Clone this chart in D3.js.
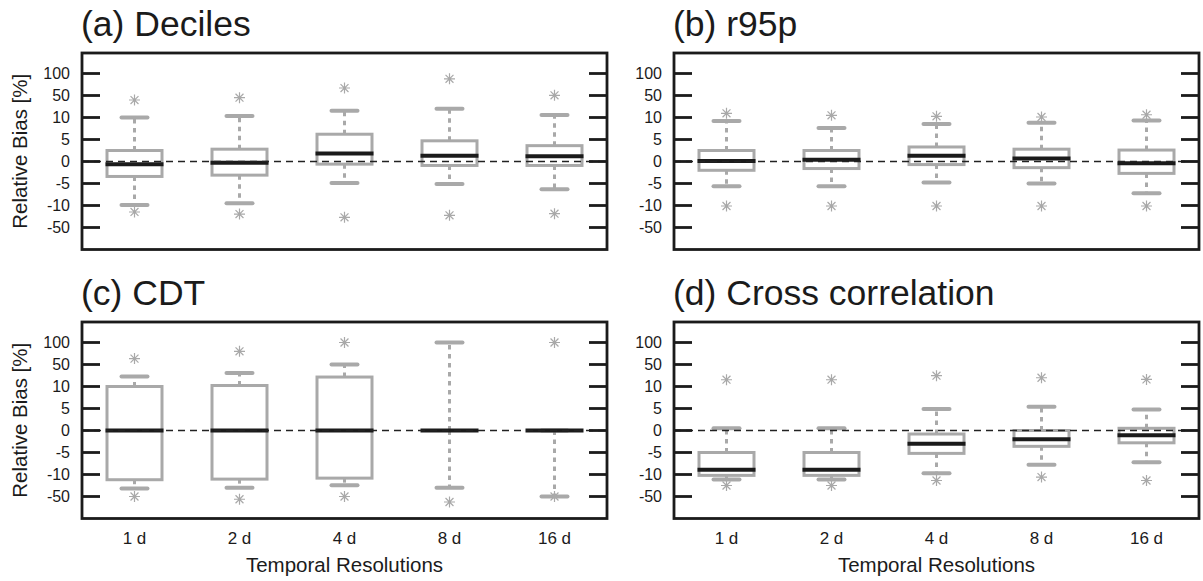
<!DOCTYPE html>
<html>
<head>
<meta charset="utf-8">
<script src="https://cdn.jsdelivr.net/npm/d3@7"></script>
<style>
  html, body { margin: 0; padding: 0; background: #fff; }
  svg { display: block; font-family: "Liberation Sans", Arial, Helvetica, sans-serif; }
</style>
</head>
<body>
<svg id="chart" width="1203" height="581"></svg>
<script>
// Temporal resolutions on the x axis
const categories = ["1 d", "2 d", "4 d", "8 d", "16 d"];

// Breakpoints of the stretched relative-bias axis (equally spaced on screen)
const yTickValues = [-50, -10, -5, 0, 5, 10, 50, 100];
const yTickLabels = ["-50", "-10", "-5", "0", "5", "10", "50", "100"];

// (a) Deciles
const decilesLow  = [-9.9, -9.5, -4.9, -5.1, -6.3];
const decilesQ1   = [-3.4, -3.1, -0.6, -0.9, -0.9];
const decilesMed  = [-0.6, -0.3, 1.8, 1.3, 1.2];
const decilesQ3   = [2.5, 2.8, 6.2, 4.7, 3.6];
const decilesHigh = [10.2, 12.7, 22.4, 26, 14.5];
const decilesOut  = [[41.8, -21.8], [46, -25.5], [67, -31.5], [88, -27.8], [50.5, -24.9]];

// (b) r95p
const r95pLow  = [-5.6, -5.6, -4.8, -5.0, -7.2];
const r95pQ1   = [-2.0, -1.6, -0.7, -1.4, -2.7];
const r95pMed  = [0.1, 0.4, 1.3, 0.7, -0.4];
const r95pQ3   = [2.5, 2.5, 3.3, 2.8, 2.6];
const r95pHigh = [9.2, 7.6, 8.5, 8.8, 9.3];
const r95pOut  = [[17.6, -10.9], [14, -10.9], [12.2, -10.9], [10.9, -10.9], [15, -10.9]];

// (c) CDT
const cdtLow  = [-35.4, -34.3, -29.4, -34.3, -50];
const cdtQ1   = [-19.5, -18.4, -16.6, 0, 0];
const cdtMed  = [0, 0, 0, 0, 0];
const cdtQ3   = [10, 11.8, 27.2, 0, 0];
const cdtHigh = [28.3, 34.5, 50, 100, 0];
const cdtOut  = [[63.4, -50], [80, -55], [100, -50], [-60], [100, -50]];

// (d) Cross correlation
const crossLow  = [-19, -19, -9.7, -7.8, -7.2];
const crossQ1   = [-11.6, -11.6, -5.2, -3.6, -2.8];
const crossMed  = [-8.9, -8.9, -3.0, -2.0, -1.1];
const crossQ3   = [-5.0, -5.0, -0.8, 0, 0.5];
const crossHigh = [0.5, 0.5, 4.9, 5.4, 4.8];
const crossOut  = [[22.3, -30], [22.3, -30], [29.6, -20.9], [25.9, -14.7], [22.8, -20.9]];

const panels = [
  { title: "(a) Deciles", left: 82, top: 53, low: decilesLow, q1: decilesQ1, med: decilesMed, q3: decilesQ3, high: decilesHigh, out: decilesOut, yTitle: true, xAxis: false },
  { title: "(b) r95p", left: 674, top: 53, low: r95pLow, q1: r95pQ1, med: r95pMed, q3: r95pQ3, high: r95pHigh, out: r95pOut, yTitle: false, xAxis: false },
  { title: "(c) CDT", left: 82, top: 322, low: cdtLow, q1: cdtQ1, med: cdtMed, q3: cdtQ3, high: cdtHigh, out: cdtOut, yTitle: true, xAxis: true },
  { title: "(d) Cross correlation", left: 674, top: 322, low: crossLow, q1: crossQ1, med: crossMed, q3: crossQ3, high: crossHigh, out: crossOut, yTitle: false, xAxis: true }
];

const W = 525, H = 196.5;          // frame size of each panel
const tickTopOffset = 20.5;        // frame top to the "100" tick
const tickStep = 22;               // spacing between neighbouring breakpoints
const boxWidth = 55, capWidth = 26;

const GREY = "#a9a9a9", INK = "#1b1b1b";
const svg = d3.select("#chart");

panels.forEach(p => {
  const g = svg.append("g");

  const x = d3.scaleBand().domain(categories).range([p.left, p.left + W]).padding(0);
  const cx = c => x(c) + x.bandwidth() / 2;

  const yTop = p.top + tickTopOffset;
  const y = d3.scaleLinear()
    .domain(yTickValues)
    .range(yTickValues.map((v, i) => yTop + (yTickValues.length - 1 - i) * tickStep));

  // panel title
  g.append("text")
    .attr("x", p.left - 1).attr("y", p.top - 17)
    .attr("font-size", 35.5).attr("fill", INK)
    .text(p.title);

  // whiskers, caps, boxes
  categories.forEach((c, i) => {
    const xc = cx(c);
    const lo = p.low[i], q1 = p.q1[i], md = p.med[i], q3 = p.q3[i], hi = p.high[i];

    // dashed whiskers from the box edges to the caps
    if (hi > q3) {
      g.append("line").attr("x1", xc).attr("x2", xc).attr("y1", y(q3)).attr("y2", y(hi))
        .attr("stroke", GREY).attr("stroke-width", 3).attr("stroke-dasharray", "4.5,4.5");
    }
    if (lo < q1) {
      g.append("line").attr("x1", xc).attr("x2", xc).attr("y1", y(q1)).attr("y2", y(lo))
        .attr("stroke", GREY).attr("stroke-width", 3).attr("stroke-dasharray", "4.5,4.5");
    }
    [lo, hi].forEach(v => {
      g.append("line")
        .attr("x1", xc - capWidth / 2).attr("x2", xc + capWidth / 2)
        .attr("y1", y(v)).attr("y2", y(v))
        .attr("stroke", GREY).attr("stroke-width", 4).attr("stroke-linecap", "round");
    });

    // box
    if (q3 > q1) {
      g.append("rect")
        .attr("x", xc - boxWidth / 2).attr("width", boxWidth)
        .attr("y", y(q3)).attr("height", y(q1) - y(q3))
        .attr("fill", "none").attr("stroke", GREY).attr("stroke-width", 3);
    }
    // median
    g.append("line")
      .attr("x1", xc - boxWidth / 2 - 1.5).attr("x2", xc + boxWidth / 2 + 1.5)
      .attr("y1", y(md)).attr("y2", y(md))
      .attr("stroke", INK).attr("stroke-width", 4);
  });

  // zero reference line
  g.append("line")
    .attr("x1", p.left).attr("x2", p.left + W)
    .attr("y1", y(0)).attr("y2", y(0))
    .attr("stroke", "#222").attr("stroke-width", 1.4).attr("stroke-dasharray", "7,5");

  // outliers drawn as asterisks
  const r = 5.5;
  const star = `M${-r},0H${r}M0,${-r}V${r}M${-r*0.72},${-r*0.72}L${r*0.72},${r*0.72}M${-r*0.72},${r*0.72}L${r*0.72},${-r*0.72}`;
  categories.forEach((c, i) => {
    p.out[i].forEach(v => {
      g.append("path")
        .attr("d", star)
        .attr("transform", `translate(${cx(c)},${y(v)})`)
        .attr("fill", "none").attr("stroke", GREY).attr("stroke-width", 1.2);
    });
  });

  // inward ticks on both sides
  const tickLen = 18;
  yTickValues.forEach(v => {
    g.append("line").attr("x1", p.left).attr("x2", p.left + tickLen)
      .attr("y1", y(v)).attr("y2", y(v)).attr("stroke", INK).attr("stroke-width", 2.8);
    g.append("line").attr("x1", p.left + W - tickLen).attr("x2", p.left + W)
      .attr("y1", y(v)).attr("y2", y(v)).attr("stroke", INK).attr("stroke-width", 2.8);
  });

  // tick labels
  g.selectAll(".ylab").data(yTickValues).enter().append("text")
    .attr("x", p.left - 12).attr("y", v => y(v)).attr("dy", "0.36em")
    .attr("text-anchor", "end").attr("font-size", 16).attr("fill", INK)
    .text((v, i) => yTickLabels[i]);

  // frame
  g.append("rect")
    .attr("x", p.left).attr("y", p.top).attr("width", W).attr("height", H)
    .attr("fill", "none").attr("stroke", INK).attr("stroke-width", 2.8);

  if (p.yTitle) {
    g.append("text")
      .attr("transform", `translate(${p.left - 55},${p.top + H / 2}) rotate(-90)`)
      .attr("text-anchor", "middle").attr("font-size", 20.5).attr("fill", INK)
      .text("Relative Bias [%]");
  }

  if (p.xAxis) {
    categories.forEach(c => {
      g.append("text")
        .attr("x", cx(c)).attr("y", p.top + H + 25)
        .attr("text-anchor", "middle").attr("font-size", 17).attr("fill", INK)
        .text(c);
    });
    g.append("text")
      .attr("x", p.left + W / 2).attr("y", p.top + H + 53.5)
      .attr("text-anchor", "middle").attr("font-size", 20.5).attr("fill", INK)
      .text("Temporal Resolutions");
  }
});
</script>
</body>
</html>
